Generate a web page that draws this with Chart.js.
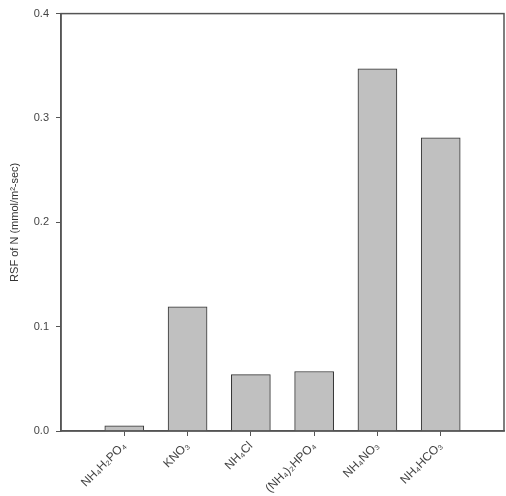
<!DOCTYPE html>
<html>
<head>
<meta charset="utf-8">
<script src="https://cdn.jsdelivr.net/npm/chart.js@4/dist/chart.umd.min.js"></script>
<style>
  html, body { margin: 0; padding: 0; background: #fff; }
  #wrap { width: 506px; height: 496px; position: relative; }
</style>
</head>
<body>
<div id="wrap"><canvas id="rsfChart"></canvas></div>
<script>
// Chart values
const salts = ['NH\u2084H\u2082PO\u2084', 'KNO\u2083', 'NH\u2084Cl', '(NH\u2084)\u2082HPO\u2084', 'NH\u2084NO\u2083', 'NH\u2084HCO\u2083'];
const rsfValues = [0.005, 0.119, 0.054, 0.057, 0.347, 0.281];
const yTicks = [0, 0.1, 0.2, 0.3, 0.4];
const yTitle = 'RSF of N (mmol/m\u00b2-sec)';

(function() {
    const axisColor = '#555555';
    const textColor = '#444444';
    const fontFamily = '"Liberation Sans", Arial, sans-serif';

    // bar positions 1..6 on an axis that runs 0..7
    const points = rsfValues.map((v, i) => ({ x: i + 1, y: v }));

    // draws the frame round the plot area
    const frame = {
        id: 'frame',
        afterDraw(chart) {
            const a = chart.chartArea;
            const c = chart.ctx;
            c.save();
            c.strokeStyle = axisColor;
            c.lineWidth = 1.5;
            c.strokeRect(a.left, a.top, a.right - a.left, a.bottom - a.top);
            c.restore();
        }
    };

    new Chart(document.getElementById('rsfChart'), {
        type: 'bar',
        data: {
            datasets: [{
                data: points,
                backgroundColor: '#c0c0c0',
                borderColor: '#333333',
                borderWidth: 1,
                barThickness: 39
            }]
        },
        options: {
            responsive: true,
            maintainAspectRatio: false,
            animation: false,
            layout: { padding: { top: 13, right: 2, left: 0, bottom: 0 } },
            plugins: {
                legend: { display: false },
                tooltip: { enabled: false }
            },
            scales: {
                x: {
                    type: 'linear',
                    min: 0,
                    max: 7,
                    offset: false,
                    afterBuildTicks: (axis) => {
                        axis.ticks = salts.map((s, i) => ({ value: i + 1 }));
                    },
                    afterFit: (axis) => { axis.height = 65; },
                    grid: {
                        display: true,
                        offset: false,
                        drawOnChartArea: false,
                        drawTicks: true,
                        tickLength: 5,
                        color: axisColor
                    },
                    border: { color: axisColor, width: 1.5 },
                    ticks: {
                        autoSkip: false,
                        minRotation: 45,
                        maxRotation: 45,
                        padding: 3,
                        color: textColor,
                        font: { family: fontFamily, size: 12 },
                        callback: (v) => salts[v - 1] || ''
                    }
                },
                y: {
                    min: 0,
                    max: 0.4,
                    afterBuildTicks: (axis) => {
                        axis.ticks = yTicks.map(v => ({ value: v }));
                    },
                    afterFit: (axis) => { axis.width = 61; },
                    grid: {
                        display: true,
                        drawOnChartArea: false,
                        drawTicks: true,
                        tickLength: 5,
                        color: axisColor
                    },
                    border: { color: axisColor, width: 1.5 },
                    ticks: {
                        padding: 7,
                        color: textColor,
                        font: { family: fontFamily, size: 11 },
                        callback: (v) => Number(v).toFixed(1)
                    },
                    title: {
                        display: true,
                        text: yTitle,
                        color: '#333333',
                        font: { family: fontFamily, size: 11 },
                        padding: { top: 8, bottom: 0 }
                    }
                }
            }
        },
        plugins: [frame]
    });
})();
</script>
</body>
</html>
